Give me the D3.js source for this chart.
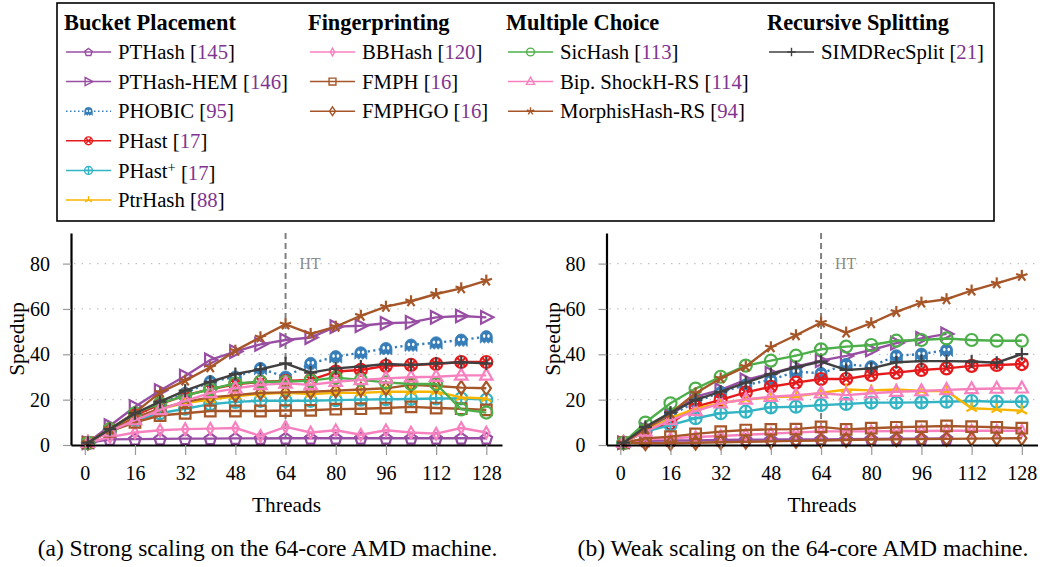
<!DOCTYPE html>
<html>
<head>
<meta charset="utf-8">
<script src="https://cdn.jsdelivr.net/npm/d3@7"></script>
<style>
body { margin: 0; background: #fff; }
</style>
</head>
<body>
<svg id="chart" width="1044" height="567" font-family="'Liberation Serif', 'DejaVu Serif', serif"></svg>
<script>
var threads = [1, 8, 16, 24, 32, 40, 48, 56, 64, 72, 80, 88, 96, 104, 112, 120, 128];
var yTicks = [0, 20, 40, 60, 80];
var xTicks = [0, 16, 32, 48, 64, 80, 96, 112, 128];

// (a) strong scaling
var strongPTHash    = [1, 2.5, 2.6, 2.7, 2.8, 2.8, 2.9, 2.9, 3, 3, 3, 3, 3, 3, 3, 3, 3];
var strongPTHashHEM = [1, 8.5, 16.9, 24, 30.4, 37.5, 41.2, 44.4, 46.3, 47.4, 52.2, 52.6, 53.7, 54.1, 56.3, 56.9, 56.3];
var strongPHOBIC    = [1, 7, 13, 18, 22.8, 28, 30, 33.8, 30, 36, 39, 40.7, 42.6, 44.1, 45.1, 46.3, 47.8];
var strongPHast     = [1, 7, 13, 18, 21.9, 24.6, 26.8, 27.9, 28.2, 28.7, 32.4, 33.1, 34.9, 35.3, 35.7, 36.6, 36.6];
var strongPHastPlus = [1, 6.5, 11, 14, 16, 18, 19, 19.5, 19.5, 19.5, 19.8, 20, 20.2, 20.3, 20.5, 20.5, 20];
var strongPtrHash   = [1, 7, 12, 16, 18.5, 20, 21.5, 22.5, 23, 22.5, 23, 23, 23.5, 23.5, 23.5, 21, 20.5];
var strongBBHash    = [1, 3.5, 5.5, 6.5, 7, 7.2, 7.5, 4, 8, 5.5, 6.5, 4.5, 6.5, 5.5, 5, 7.5, 5.5];
var strongFMPH      = [1, 6, 10, 13, 14, 15, 15, 15, 15.2, 15.3, 15.8, 16, 16.3, 16.8, 16.3, 16, 15.5];
var strongFMPHGO    = [1, 6.5, 12, 16, 19, 21, 22, 23, 23.2, 23.5, 24, 24.5, 25, 26.5, 26, 25.3, 25];
var strongSicHash   = [1, 7, 14, 18.4, 21.8, 24.6, 27.2, 27.9, 27.9, 28.4, 29.7, 28.7, 27.6, 26.9, 26.9, 15.7, 14.3];
var strongShockH    = [1, 6, 11, 15.5, 19.5, 23, 25, 26.5, 27.2, 26.5, 27.9, 28.7, 29.4, 29.9, 30.1, 30.7, 30.7];
var strongMorphis   = [1, 7, 14.3, 23.2, 28.4, 34.3, 41.6, 47.5, 53.2, 49, 52.2, 57, 61, 63.4, 66.6, 69.1, 72.5];
var strongSIMD      = [1, 7, 14, 19.1, 24, 27.9, 31.3, 33.4, 36, 31.9, 33.8, 34.6, 35.7, 35.3, 36, 36.5, 36];

// (b) weak scaling
var weakPTHash    = [1, 1.8, 2, 2, 2.2, 2.3, 2.4, 2.5, 2.5, 2.6, 2.7, 2.8, 2.8, 2.9];
var weakPTHashHEM = [1, 7, 13, 21.3, 24.3, 28.7, 31.6, 34.6, 37.2, 39.3, 41.9, 44.9, 47, 49];
var weakPHOBIC    = [1, 7, 13, 19, 23.2, 26.5, 28.7, 32.4, 31.6, 35.6, 34.6, 39.4, 40.1, 41.9];
var weakPHast     = [1, 6, 9.6, 16.9, 19.9, 23.2, 25.7, 27.5, 29.1, 29.1, 30.9, 31.9, 33.1, 33.8, 34.9, 35.3, 35.7];
var weakPHastPlus = [1, 5.9, 8.8, 11.8, 14, 14.7, 16.6, 16.9, 17.6, 18.1, 18.7, 18.7, 18.8, 19.1, 19.4, 19.1, 19.1];
var weakPtrHash   = [1, 6, 12, 16, 18.5, 20, 21, 21.5, 23, 24.5, 24.1, 24.5, 23.8, 23.8, 16.2, 15.7, 15.1];
var weakBBHash    = [1, 2.5, 3, 3.5, 4, 4.5, 5, 5.5, 6, 6, 6, 6.2, 6.2, 6.3, 6.3, 6.3, 6.3];
var weakFMPH      = [1, 2.9, 3.7, 4.9, 5.9, 6.6, 6.9, 7, 8, 6.9, 7.4, 7.8, 8.1, 8.4, 8.1, 7.8, 7.4];
var weakFMPHGO    = [1, 0.8, 0.8, 1, 1.2, 1.4, 1.6, 1.8, 2, 2.2, 2.4, 2.5, 2.6, 2.7, 2.8, 2.9, 3];
var weakSicHash   = [1, 9.9, 18.4, 24.9, 30.1, 35, 37.2, 39.4, 42.2, 43.4, 44.1, 46, 46.3, 47, 46.3, 46, 46];
var weakShockH    = [1, 6, 11, 15, 18.4, 20.1, 21.3, 22, 22.8, 22, 22.8, 23.5, 23.8, 24.3, 24.7, 24.9, 25];
var weakMorphis   = [1, 7, 14, 22.8, 29.4, 34.6, 43.1, 48.4, 54, 49.6, 53.7, 58.7, 62.8, 64.3, 68.1, 71.3, 74.6];
var weakSIMD      = [1, 8, 14.3, 19.9, 23.5, 27.5, 31.3, 34.3, 36.8, 33.1, 33.8, 36.5, 37, 37, 36.8, 36.3, 40.1];

var purple = "#984ea3", blue = "#377eb8", red = "#e41a1c", teal = "#33b4c4",
    yellow = "#f7b500", pink = "#f781bf", brown = "#a65628", green = "#4daf4a", dark = "#404040";

var methods = [
  {key: "PTHash",    label: "PTHash",         cite: "145", color: purple, mark: "pentagon", col: 0},
  {key: "PTHashHEM", label: "PTHash-HEM",     cite: "146", color: purple, mark: "triRight", col: 0},
  {key: "PHOBIC",    label: "PHOBIC",         cite: "95",  color: blue,   mark: "ghost",    col: 0, dotted: true},
  {key: "PHast",     label: "PHast",          cite: "17",  color: red,    mark: "otimes",   col: 0},
  {key: "PHastPlus", label: "PHast",          cite: "17",  color: teal,   mark: "oplus",    col: 0, sup: "+"},
  {key: "PtrHash",   label: "PtrHash",        cite: "88",  color: yellow, mark: "mercedes", col: 0},
  {key: "BBHash",    label: "BBHash",         cite: "120", color: pink,   mark: "thinDiamond", col: 1},
  {key: "FMPH",      label: "FMPH",           cite: "16",  color: brown,  mark: "square",   col: 1},
  {key: "FMPHGO",    label: "FMPHGO",         cite: "16",  color: brown,  mark: "diamond",  col: 1},
  {key: "SicHash",   label: "SicHash",        cite: "113", color: green,  mark: "circle",   col: 2},
  {key: "ShockH",    label: "Bip. ShockH-RS", cite: "114", color: pink,   mark: "triUp",    col: 2},
  {key: "Morphis",   label: "MorphisHash-RS", cite: "94",  color: brown,  mark: "star",     col: 2},
  {key: "SIMD",      label: "SIMDRecSplit",   cite: "21",  color: dark,   mark: "plus",     col: 3}
];

var strongData = {PTHash: strongPTHash, PTHashHEM: strongPTHashHEM, PHOBIC: strongPHOBIC, PHast: strongPHast,
  PHastPlus: strongPHastPlus, PtrHash: strongPtrHash, BBHash: strongBBHash, FMPH: strongFMPH, FMPHGO: strongFMPHGO,
  SicHash: strongSicHash, ShockH: strongShockH, Morphis: strongMorphis, SIMD: strongSIMD};
var weakData = {PTHash: weakPTHash, PTHashHEM: weakPTHashHEM, PHOBIC: weakPHOBIC, PHast: weakPHast,
  PHastPlus: weakPHastPlus, PtrHash: weakPtrHash, BBHash: weakBBHash, FMPH: weakFMPH, FMPHGO: weakFMPHGO,
  SicHash: weakSicHash, ShockH: weakShockH, Morphis: weakMorphis, SIMD: weakSIMD};

var svg = d3.select("#chart");

// pick a font size so that a sample string gets the width it has in the figure
function fitSize(sample, width, weight) {
  var t = svg.append("text").attr("font-size", 20).attr("font-weight", weight || "normal").text(sample);
  var w = t.node().getComputedTextLength();
  t.remove();
  return w > 0 ? 20 * width / w : 20;
}
var legendSize = fitSize("PTHash-HEM [146]", 170);
var headSize = fitSize("Bucket Placement", 172, "bold");
var capSize = fitSize("(a) Strong scaling on the 64-core AMD machine.", 460);
var labelSize = fitSize("Threads", 69);
var tickSize = fitSize("128", 30);
var htSize = fitSize("HT", 21);

// draws one marker centred on (0,0) inside g, k scales it
function drawMark(g, type, color, k, lw) {
  function poly(pts) {
    g.append("polygon")
      .attr("points", pts.map(function(p) { return (p[0] * k) + "," + (p[1] * k); }).join(" "))
      .attr("fill", "none").attr("stroke", color).attr("stroke-width", lw).attr("stroke-linejoin", "miter");
  }
  function seg(x1, y1, x2, y2) {
    g.append("line").attr("x1", x1 * k).attr("y1", y1 * k).attr("x2", x2 * k).attr("y2", y2 * k)
      .attr("stroke", color).attr("stroke-width", lw);
  }
  var i, a;
  switch (type) {
    case "circle":
      g.append("circle").attr("r", 6 * k).attr("fill", "none").attr("stroke", color).attr("stroke-width", lw);
      break;
    case "otimes":
      g.append("circle").attr("r", 6 * k).attr("fill", "none").attr("stroke", color).attr("stroke-width", lw);
      seg(-4.2, -4.2, 4.2, 4.2); seg(-4.2, 4.2, 4.2, -4.2);
      break;
    case "oplus":
      g.append("circle").attr("r", 6 * k).attr("fill", "none").attr("stroke", color).attr("stroke-width", lw);
      seg(-6, 0, 6, 0); seg(0, -6, 0, 6);
      break;
    case "pentagon":
      var pts = [];
      for (i = 0; i < 5; i++) { a = -Math.PI / 2 + i * 2 * Math.PI / 5; pts.push([6 * Math.cos(a), 6 * Math.sin(a) + 0.6]); }
      poly(pts);
      break;
    case "triRight":
      poly([[7, 0], [-5.2, -6.3], [-5.2, 6.3]]);
      break;
    case "triUp":
      poly([[0, -6.8], [6.2, 4.2], [-6.2, 4.2]]);
      break;
    case "square":
      poly([[-5.3, -5.3], [5.3, -5.3], [5.3, 5.3], [-5.3, 5.3]]);
      break;
    case "diamond":
      poly([[0, -6.8], [4.6, 0], [0, 6.8], [-4.6, 0]]);
      break;
    case "thinDiamond":
      poly([[0, -5.8], [3.3, 0], [0, 5.8], [-3.3, 0]]);
      break;
    case "star":
      for (i = 0; i < 5; i++) { a = -Math.PI / 2 + i * 2 * Math.PI / 5; seg(0, 0, 6 * Math.cos(a), 6 * Math.sin(a)); }
      break;
    case "mercedes":
      for (i = 0; i < 3; i++) { a = -Math.PI / 2 + i * 2 * Math.PI / 3; seg(0, 0, 6 * Math.cos(a), 6 * Math.sin(a)); }
      break;
    case "plus":
      seg(-6.5, 0, 6.5, 0); seg(0, -6.5, 0, 6.5);
      break;
    case "ghost":
      g.append("path")
        .attr("d", "M-6,6.5 L-6,0 A6,6 0 0 1 6,0 L6,6.5 L4,4.6 L2,6.5 L0,4.6 L-2,6.5 L-4,4.6 Z")
        .attr("transform", "scale(" + k + ")")
        .attr("fill", color).attr("stroke", color).attr("stroke-width", 0.8);
      g.append("ellipse").attr("cx", -2.2 * k).attr("cy", -0.5 * k).attr("rx", 1.3 * k).attr("ry", 1.8 * k).attr("fill", "#fff");
      g.append("ellipse").attr("cx", 2.2 * k).attr("cy", -0.5 * k).attr("rx", 1.3 * k).attr("ry", 1.8 * k).attr("fill", "#fff");
      break;
  }
}

function drawPanel(data, left, right, caption) {
  var x = d3.scaleLinear().domain([-4.4, 133]).range([left, right]);
  var y = d3.scaleLinear().domain([0, 93.5]).range([445, 233]);
  var g = svg.append("g");

  // dotted grid
  g.selectAll(".grid").data(yTicks.slice(1)).enter().append("line")
    .attr("x1", left + 3).attr("x2", right)
    .attr("y1", function(d) { return y(d); }).attr("y2", function(d) { return y(d); })
    .attr("stroke", "#bbb").attr("stroke-width", 1.3).attr("stroke-dasharray", "1.3 6.4");

  // hyper-threading marker
  g.append("line").attr("x1", x(64)).attr("x2", x(64)).attr("y1", 233).attr("y2", 445)
    .attr("stroke", "#808080").attr("stroke-width", 2).attr("stroke-dasharray", "6 4");
  g.append("text").attr("x", x(64) + 14).attr("y", y(80)).attr("dy", "0.35em")
    .attr("fill", "#888").attr("font-size", htSize).text("HT");

  var line = d3.line()
    .x(function(d) { return x(d[0]); })
    .y(function(d) { return y(d[1]); });

  methods.forEach(function(m) {
    var pts = data[m.key].map(function(v, i) { return [threads[i], v]; });
    var p = g.append("path").attr("d", line(pts)).attr("fill", "none")
      .attr("stroke", m.color).attr("stroke-width", 2.4).attr("stroke-linejoin", "round");
    if (m.dotted) p.attr("stroke-dasharray", "2.2 3.3");
    pts.forEach(function(d) {
      var mg = g.append("g").attr("transform", "translate(" + x(d[0]) + "," + y(d[1]) + ")");
      drawMark(mg, m.mark, m.color, 1, 2.2);
    });
  });

  var ax = g.append("g").attr("transform", "translate(0,445)")
    .call(d3.axisBottom(x).tickValues(xTicks).tickSize(10).tickSizeOuter(0).tickPadding(11));
  var ay = g.append("g").attr("transform", "translate(" + left + ",0)")
    .call(d3.axisLeft(y).tickValues(yTicks).tickSize(8).tickSizeOuter(0).tickPadding(13));
  [ax, ay].forEach(function(a) {
    a.attr("font-family", null).attr("font-size", tickSize);
    a.select(".domain").attr("stroke", "#000").attr("stroke-width", 2.2);
    a.selectAll(".tick line").attr("stroke", "#999").attr("stroke-width", 1.2);
    a.selectAll(".tick text").attr("fill", "#000");
  });

  var cx = (left + right) / 2;
  g.append("text").attr("x", cx).attr("y", 512).attr("text-anchor", "middle")
    .attr("font-size", labelSize).text("Threads");
  g.append("text").attr("transform", "translate(" + (left - 47) + ",339) rotate(-90)")
    .attr("text-anchor", "middle").attr("font-size", labelSize).text("Speedup");
  g.append("text").attr("x", cx - 19).attr("y", 556).attr("text-anchor", "middle")
    .attr("font-size", capSize).text(caption);
}

drawPanel(strongData, 71, 502, "(a) Strong scaling on the 64-core AMD machine.");
drawPanel(weakData, 606.5, 1037.5, "(b) Weak scaling on the 64-core AMD machine.");

// legend
var legend = svg.append("g");
legend.append("rect").attr("x", 57).attr("y", 3).attr("width", 937).attr("height", 218)
  .attr("fill", "#fff").attr("stroke", "#000").attr("stroke-width", 1.6);

var colX = [66, 310, 508, 769];
var headers = ["Bucket Placement", "Fingerprinting", "Multiple Choice", "Recursive Splitting"];
headers.forEach(function(h, i) {
  legend.append("text").attr("x", colX[i] - 2).attr("y", 22).attr("dy", "0.35em")
    .attr("font-size", headSize).attr("font-weight", "bold").text(h);
});

var rowCount = [0, 0, 0, 0];
methods.forEach(function(m) {
  var r = rowCount[m.col]++;
  var ly = 52 + r * 29.6, lx = colX[m.col];
  var l = legend.append("line").attr("x1", lx).attr("x2", lx + 45).attr("y1", ly).attr("y2", ly)
    .attr("stroke", m.color).attr("stroke-width", 1.5);
  if (m.dotted) l.attr("stroke-dasharray", "1.5 2.5");
  var mg = legend.append("g").attr("transform", "translate(" + (lx + 22.5) + "," + ly + ")");
  drawMark(mg, m.mark, m.color, 0.65, 1.4);
  var t = legend.append("text").attr("x", lx + 52).attr("y", ly).attr("dy", "0.35em").attr("font-size", legendSize);
  t.append("tspan").text(m.label);
  if (m.sup) t.append("tspan").attr("dy", "-0.4em").attr("font-size", legendSize * 0.7).text(m.sup);
  t.append("tspan").attr("dy", m.sup ? "0.4em" : null).text(" [");
  t.append("tspan").attr("fill", "#7f3590").text(m.cite);
  t.append("tspan").text("]");
});
</script>
</body>
</html>
